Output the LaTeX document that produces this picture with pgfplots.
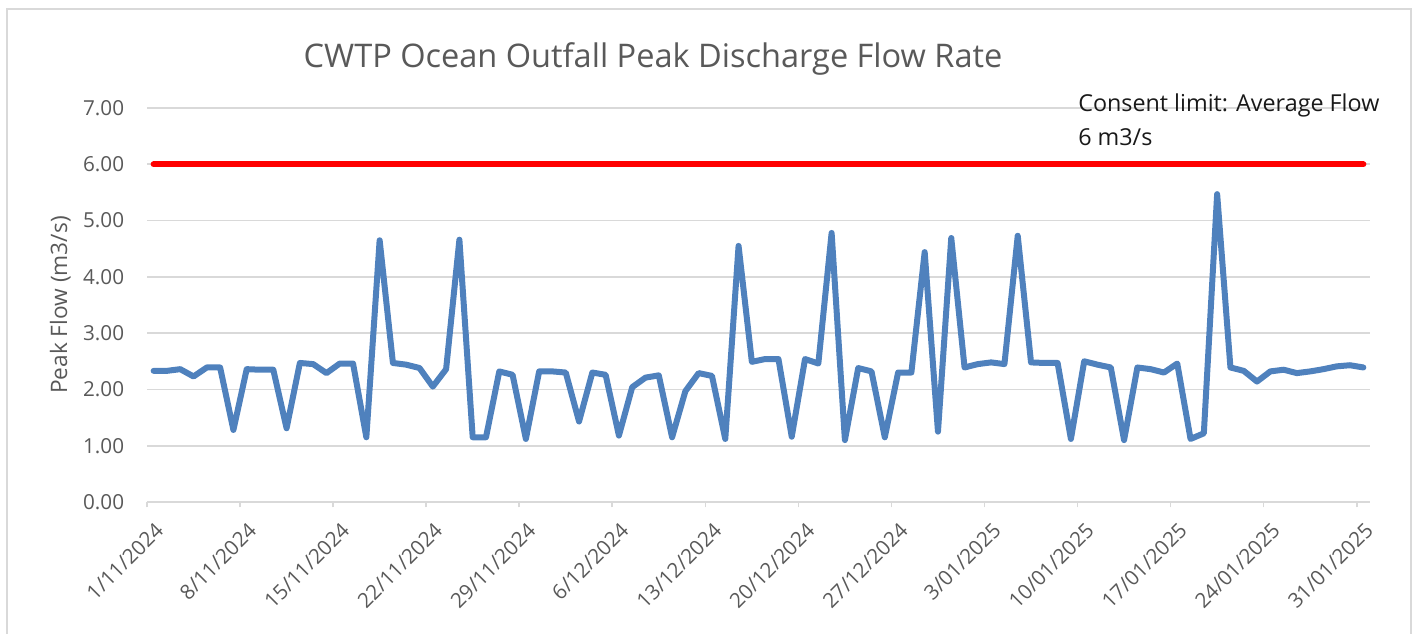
\documentclass[border=0pt]{standalone}
\usepackage{fontspec}
\setmainfont{Open Sans}
\usepackage{pgfplots}
\usepackage{pgfplotstable}
\pgfplotsset{compat=1.18}
\definecolor{flowBlue}{HTML}{4F81BD}
\definecolor{limitRed}{HTML}{FF0000}
\definecolor{inkGrey}{HTML}{595959}
\definecolor{gridGrey}{HTML}{D9D9D9}

% daily peak flow, day 0 = 1/11/2024
\pgfplotstableread{
d v
0 2.33
1 2.33
2 2.36
3 2.23
4 2.39
5 2.39
6 1.28
7 2.36
8 2.35
9 2.35
10 1.31
11 2.47
12 2.45
13 2.29
14 2.46
15 2.46
16 1.15
17 4.65
18 2.47
19 2.44
20 2.38
21 2.05
22 2.36
23 4.66
24 1.15
25 1.15
26 2.32
27 2.26
28 1.12
29 2.32
30 2.32
31 2.30
32 1.43
33 2.30
34 2.26
35 1.18
36 2.04
37 2.21
38 2.25
39 1.15
40 1.97
41 2.29
42 2.24
43 1.12
44 4.55
45 2.49
46 2.54
47 2.54
48 1.16
49 2.54
50 2.46
51 4.78
52 1.10
53 2.38
54 2.32
55 1.15
56 2.30
57 2.30
58 4.44
59 1.25
60 4.69
61 2.39
62 2.45
63 2.48
64 2.45
65 4.73
66 2.48
67 2.47
68 2.47
69 1.12
70 2.50
71 2.44
72 2.39
73 1.10
74 2.39
75 2.36
76 2.30
77 2.46
78 1.12
79 1.22
80 5.47
81 2.39
82 2.33
83 2.14
84 2.32
85 2.35
86 2.29
87 2.32
88 2.36
89 2.41
90 2.43
91 2.39
}\flowdata

\begin{document}
\begin{tikzpicture}[x=0.75pt,y=0.75pt]
\useasboundingbox (0,0) rectangle (1416,634);
\draw[gridGrey, line width=1.5pt] (7,-20) -- (7,625) -- (1411,625) -- (1411,-20);
\node[anchor=base, text=inkGrey, font=\fontsize{24.4}{28}\selectfont] at (653,566) {CWTP Ocean Outfall Peak Discharge Flow Rate};
\begin{axis}[
  at={(110.25pt,99pt)}, anchor=south west,
  scale only axis, width=917.25pt, height=295.5pt,
  xmin=0, xmax=92, ymin=0, ymax=7,
  axis lines*=left,
  x axis line style={gridGrey, line width=1.2pt},
  y axis line style={draw=none},
  ymajorgrids, major grid style={gridGrey, line width=1.2pt},
  tick align=outside, major tick length=4pt,
  xtick style={gridGrey, line width=1.2pt},
  ytick style={draw=none},
  ytick={0,1,...,7},
  xtick={0,7,...,91},
  xticklabels={1/11/2024,8/11/2024,15/11/2024,22/11/2024,29/11/2024,6/12/2024,13/12/2024,20/12/2024,27/12/2024,3/01/2025,10/01/2025,17/01/2025,24/01/2025,31/01/2025},
  tick label style={text=inkGrey},
  yticklabel style={font=\fontsize{15.5}{19}\selectfont, /pgf/number format/fixed, /pgf/number format/fixed zerofill, /pgf/number format/precision=2, /pgf/number format/assume math mode=true, inner sep=0pt, xshift=-13pt},
  xticklabel style={font=\fontsize{15.5}{18}\selectfont, rotate=45, anchor=north east, inner sep=0pt, xshift=-3.5pt, yshift=-11pt},
  ylabel={Peak Flow (m3/s)},
  every axis y label/.style={at={(axis description cs:0,0.5)}, rotate=90, anchor=south, inner sep=0pt, yshift=57pt, font=\fontsize{17}{20}\selectfont, text=inkGrey},
  clip=false,
]
\addplot[limitRed, line width=4.5pt, line cap=round] coordinates {(0.5,6) (91.5,6)};
\addplot[flowBlue, line width=4.5pt, line join=round, line cap=round] table[x expr=\thisrow{d}+0.5, y=v] {\flowdata};
\node[anchor=base west, font=\fontsize{17.5}{21}\selectfont, text=black!90] at (axis cs:69.7,6.93) {Consent limit: Average Flow};
\node[anchor=base west, font=\fontsize{17.5}{21}\selectfont, text=black!90] at (axis cs:69.7,6.34) {6 m3/s};
\end{axis}
\end{tikzpicture}
\end{document}
